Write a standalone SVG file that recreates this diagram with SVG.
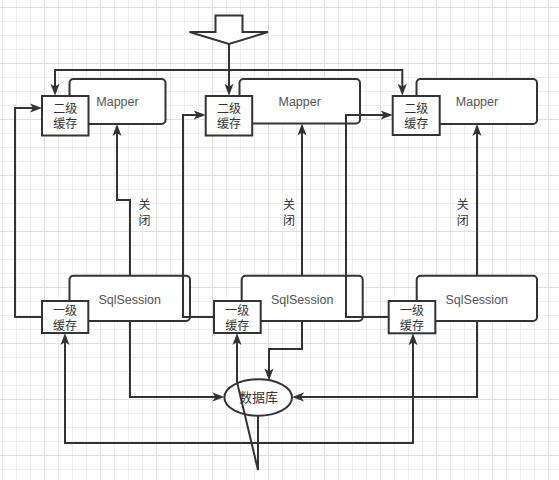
<svg xmlns="http://www.w3.org/2000/svg" width="559" height="480" viewBox="0 0 559 480">
  <defs>
    <pattern id="grid" patternUnits="userSpaceOnUse" x="44" y="7" width="56" height="56">
      <path d="M14.5,0V56M28.5,0V56M42.5,0V56M0,14.5H56M0,28.5H56M0,42.5H56" stroke="#eeeeee" stroke-width="1" fill="none"/>
      <path d="M0.5,0V56M0,0.5H56" stroke="#e0e0e0" stroke-width="1" fill="none"/>
    </pattern>
    <marker id="arr" markerUnits="userSpaceOnUse" markerWidth="12" markerHeight="9" refX="8" refY="4.5" orient="auto" overflow="visible">
      <path d="M0,0 L12,4.5 L0,9 L3,4.5 Z" fill="#333333" stroke="none"/>
    </marker>
    <style>
      .box { fill: #ffffff; stroke: #333333; stroke-width: 2; }
      .cjk { font-family: "Liberation Sans", "Noto Sans CJK SC", sans-serif; font-size: 12px; fill: #333333; text-anchor: middle; }
      .lat { font-family: "Liberation Sans", "Noto Sans CJK SC", sans-serif; font-size: 12.5px; fill: #555555; text-anchor: middle; }
      .edge { fill: none; stroke: #333333; stroke-width: 2; }
      .arrow { marker-end: url(#arr); }
    </style>
  </defs>
  <rect x="0" y="0" width="559" height="480" fill="#ffffff"/>
  <rect x="0" y="0" width="559" height="480" fill="url(#grid)"/>

  <g id="start-arrow">
    <polygon class="box" points="215.5,15.5 242.5,15.5 242.5,32 268,32 229,44 189.5,32 215.5,32"/>
  </g>

  <g id="mapper1">
    <rect class="box" x="69.5" y="79" width="96" height="45" rx="4"/>
    <text class="lat" x="117.5" y="106">Mapper</text>
  </g>
  <g id="mapper2">
    <rect class="box" x="239.5" y="79" width="120.5" height="44.5" rx="4"/>
    <text class="lat" x="299.7" y="106">Mapper</text>
  </g>
  <g id="mapper3">
    <rect class="box" x="416.5" y="79" width="120.5" height="45" rx="4"/>
    <text class="lat" x="477" y="106">Mapper</text>
  </g>

  <g id="cache2-1">
    <rect class="box" x="42" y="96" width="46.5" height="39.5"/>
    <text class="cjk" x="65.2" y="112.5">二级</text>
    <text class="cjk" x="65.2" y="127.5">缓存</text>
  </g>
  <g id="cache2-2">
    <rect class="box" x="205.7" y="96" width="46.5" height="39.5"/>
    <text class="cjk" x="229" y="112.5">二级</text>
    <text class="cjk" x="229" y="127.5">缓存</text>
  </g>
  <g id="cache2-3">
    <rect class="box" x="392.7" y="96" width="47" height="39"/>
    <text class="cjk" x="416.2" y="112.5">二级</text>
    <text class="cjk" x="416.2" y="127.5">缓存</text>
  </g>

  <g id="sqlsession1">
    <rect class="box" x="69.5" y="275.7" width="120.5" height="45.3" rx="4"/>
    <text class="lat" x="129.7" y="303.5">SqlSession</text>
  </g>
  <g id="sqlsession2">
    <rect class="box" x="241.7" y="275.7" width="121" height="45.3" rx="4"/>
    <text class="lat" x="302.2" y="303.5">SqlSession</text>
  </g>
  <g id="sqlsession3">
    <rect class="box" x="416.7" y="275.7" width="120.3" height="45.3" rx="4"/>
    <text class="lat" x="476.8" y="303.5">SqlSession</text>
  </g>

  <g id="cache1-1">
    <rect class="box" x="42" y="301" width="46.3" height="32"/>
    <text class="cjk" x="65.1" y="314.5">一级</text>
    <text class="cjk" x="65.1" y="329.5">缓存</text>
  </g>
  <g id="cache1-2">
    <rect class="box" x="214" y="301" width="46.7" height="32"/>
    <text class="cjk" x="237.3" y="314.5">一级</text>
    <text class="cjk" x="237.3" y="329.5">缓存</text>
  </g>
  <g id="cache1-3">
    <rect class="box" x="388.7" y="301" width="46.6" height="32.3"/>
    <text class="cjk" x="412" y="314.5">一级</text>
    <text class="cjk" x="412" y="329.5">缓存</text>
  </g>

  <g id="database">
    <ellipse class="box" cx="258.2" cy="397.5" rx="33.8" ry="18.2"/>
    <text class="cjk" x="258.5" y="401.5" style="font-size:13px">数据库</text>
  </g>

  <g id="connectors">
    <path class="edge arrow" d="M229,44 L229,91.7"/>
    <path class="edge arrow" d="M229,70 L55,70 L55,91.7"/>
    <path class="edge arrow" d="M229,70 L402.3,70 L402.3,91.7"/>
    <path class="edge arrow" d="M42,317 L15,317 L15,108 L38,108"/>
    <path class="edge arrow" d="M214,317 L183,317 L183,115 L201.7,115"/>
    <path class="edge arrow" d="M388.7,317 L346,317 L346,115 L388.7,115"/>
    <path class="edge arrow" d="M130,275.7 L130,200 L117,200 L117,128"/>
    <path class="edge arrow" d="M302,275.7 L302,127.5"/>
    <path class="edge arrow" d="M477,275.7 L477,128"/>
    <path class="edge arrow" d="M130,321 L130,397 L220.4,397"/>
    <path class="edge arrow" d="M302,321 L302,349 L269,349 L269,376.5"/>
    <path class="edge arrow" d="M477,321 L477,397 L296,397"/>
    <path class="edge arrow" d="M258,415.7 L258,470 L237,382 L237,337"/>
    <path class="edge arrow" d="M258,443 L65,443 L65,337"/>
    <path class="edge arrow" d="M258,443 L413,443 L413,337.3"/>
    <text class="cjk" x="144.5" y="208.5">关</text>
    <text class="cjk" x="144.5" y="224.5">闭</text>
    <text class="cjk" x="289" y="208.5">关</text>
    <text class="cjk" x="289" y="224.5">闭</text>
    <text class="cjk" x="462.7" y="208.5">关</text>
    <text class="cjk" x="462.7" y="224.5">闭</text>
  </g>
</svg>
